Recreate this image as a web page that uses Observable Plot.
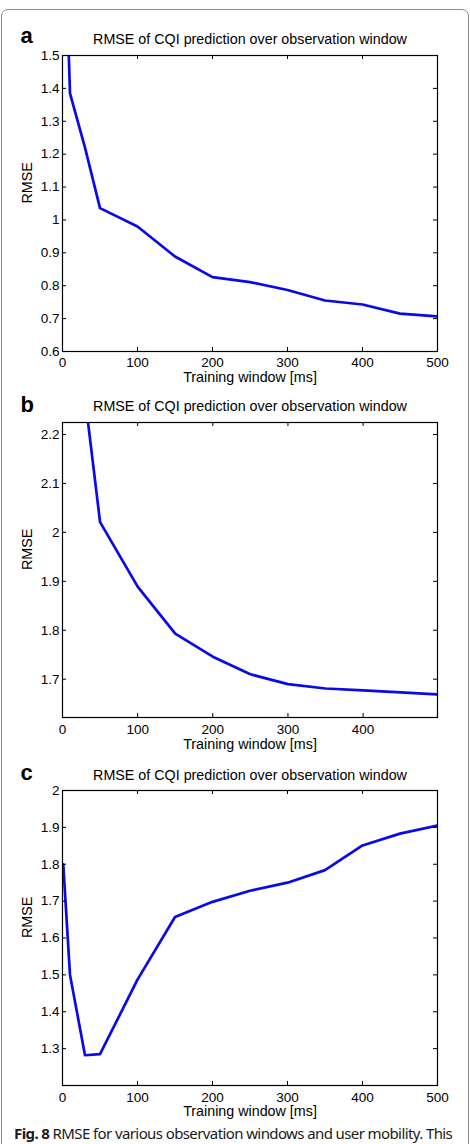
<!DOCTYPE html>
<html>
<head>
<meta charset="utf-8">
<script src="https://cdn.jsdelivr.net/npm/d3@7"></script>
<script src="https://cdn.jsdelivr.net/npm/@observablehq/plot@0.6"></script>
<style>
  html, body { margin: 0; padding: 0; background: #fff; }
  #page { position: relative; width: 470px; height: 1144px; overflow: hidden; font-family: "Liberation Sans", Arial, sans-serif; }
  #box { position: absolute; left: 1px; top: 9px; width: 466px; height: 1200px; border: 1.5px solid #8c8c8c; border-radius: 7px; }
  .panel { position: absolute; left: 0; }
  .panel svg { overflow: visible; background: transparent; }
  #caption { position: absolute; left: 14px; top: 1126px; font-family: "Noto Sans", sans-serif; font-size: 15px; line-height: 15px; letter-spacing: -0.6px; color: #1a1a1a; white-space: nowrap; }
  #caption b { font-weight: 700; }
</style>
</head>
<body>
<div id="page">
  <div id="box"></div>
  <div id="caption"><b>Fig. 8</b> RMSE for various observation windows and user mobility. This</div>
</div>
<script>
// Training window lengths [ms]
const windowMs = [1, 10, 30, 50, 100, 150, 200, 250, 300, 350, 400, 450, 500];
const windowMsB = [30, 50, 100, 150, 200, 250, 300, 350, 400, 450, 500];

// RMSE of CQI prediction for each mobility scenario
const rmseA = [2.03, 1.385, 1.22, 1.036, 0.98, 0.889, 0.826, 0.811, 0.787, 0.755, 0.743, 0.715, 0.707];
const rmseB = [2.275, 2.021, 1.889, 1.793, 1.746, 1.710, 1.690, 1.681, 1.677, 1.673, 1.669];
const rmseC = [1.80, 1.50, 1.282, 1.285, 1.487, 1.657, 1.698, 1.728, 1.750, 1.784, 1.851, 1.883, 1.905];

// Tick values
const xTicksA = [0, 100, 200, 300, 400, 500];
const xTicksB = [0, 100, 200, 300, 400];
const xTicksC = [0, 100, 200, 300, 400, 500];
const yTicksA = [0.6, 0.7, 0.8, 0.9, 1.0, 1.1, 1.2, 1.3, 1.4, 1.5];
const yTicksB = [1.7, 1.8, 1.9, 2.0, 2.1, 2.2];
const yTicksC = [1.3, 1.4, 1.5, 1.6, 1.7, 1.8, 1.9, 2.0];

const title = "RMSE of CQI prediction over observation window";
const xLabel = "Training window [ms]";
const yLabel = "RMSE";

const fmt = d3.format("~g");
const W = 470, mL = 62, mR = 33, mT = 30, mB = 36;
const innerW = W - mL - mR;

function panel({letter, xs, ys, xDomain, yDomain, xTicks, yTicks, frameTop, frameBottom, letterDy, titleDy, tickPad, labelDy}) {
  const innerH = frameBottom - frameTop;
  const data = xs.map((x, i) => ({x, y: ys[i]}));
  const tick = 4;
  const svg = Plot.plot({
    width: W,
    height: innerH + mT + mB,
    marginLeft: mL, marginRight: mR, marginTop: mT, marginBottom: mB,
    style: {fontFamily: "Liberation Sans, Arial, sans-serif", fontSize: "13.5px", color: "#000", background: "transparent", overflow: "visible"},
    x: {domain: xDomain},
    y: {domain: yDomain},
    marks: [
      Plot.line(data, {x: "x", y: "y", stroke: "#0a0ae8", strokeWidth: 2.7, clip: true}),
      // inward tick marks on all four sides
      Plot.ruleX(xTicks, {x: d => d, insetTop: innerH - tick, stroke: "#000"}),
      Plot.ruleX(xTicks, {x: d => d, insetBottom: innerH - tick, stroke: "#000"}),
      Plot.ruleY(yTicks, {y: d => d, insetRight: innerW - tick, stroke: "#000"}),
      Plot.ruleY(yTicks, {y: d => d, insetLeft: innerW - tick, stroke: "#000"}),
      Plot.frame({stroke: "#000", strokeWidth: 1.2}),
      Plot.axisX({ticks: xTicks, tickSize: 0, tickPadding: tickPad, tickFormat: fmt, label: null, fontSize: 13.5}),
      Plot.axisY({ticks: yTicks, tickSize: 0, tickPadding: 3, tickFormat: fmt, label: null, fontSize: 13.5}),
      Plot.text([title], {frameAnchor: "top", dy: titleDy, lineAnchor: "bottom", fontSize: 14.3}),
      Plot.text([xLabel], {frameAnchor: "bottom", dy: labelDy, lineAnchor: "bottom", fontSize: 14.3}),
      Plot.text([yLabel], {frameAnchor: "left", dx: -35, rotate: -90, lineAnchor: "middle", fontSize: 14.3}),
      Plot.text([letter], {frameAnchor: "top-left", dx: -42, dy: letterDy, textAnchor: "start", lineAnchor: "bottom", fontSize: 22, fontWeight: "bold"})
    ]
  });
  const wrap = document.createElement("div");
  wrap.className = "panel";
  wrap.style.top = (frameTop - mT) + "px";
  wrap.appendChild(svg);
  document.getElementById("page").appendChild(wrap);
}

panel({letter: "a", xs: windowMs, ys: rmseA, xDomain: [0, 500], yDomain: [0.6, 1.5],
  xTicks: xTicksA, yTicks: yTicksA, frameTop: 55, frameBottom: 351,
  letterDy: -12.3, titleDy: -11.5, tickPad: 5.7, labelDy: 30});
panel({letter: "b", xs: windowMsB, ys: rmseB, xDomain: [0, 499], yDomain: [1.6217, 2.2245],
  xTicks: xTicksB, yTicks: yTicksB, frameTop: 422.3, frameBottom: 717.3,
  letterDy: -10.6, titleDy: -11.4, tickPad: 7, labelDy: 31.5});
panel({letter: "c", xs: windowMs, ys: rmseC, xDomain: [0, 500], yDomain: [1.2, 2.0],
  xTicks: xTicksC, yTicks: yTicksC, frameTop: 790, frameBottom: 1085,
  letterDy: -10.7, titleDy: -10.8, tickPad: 6.7, labelDy: 30.9});
</script>
</body>
</html>
